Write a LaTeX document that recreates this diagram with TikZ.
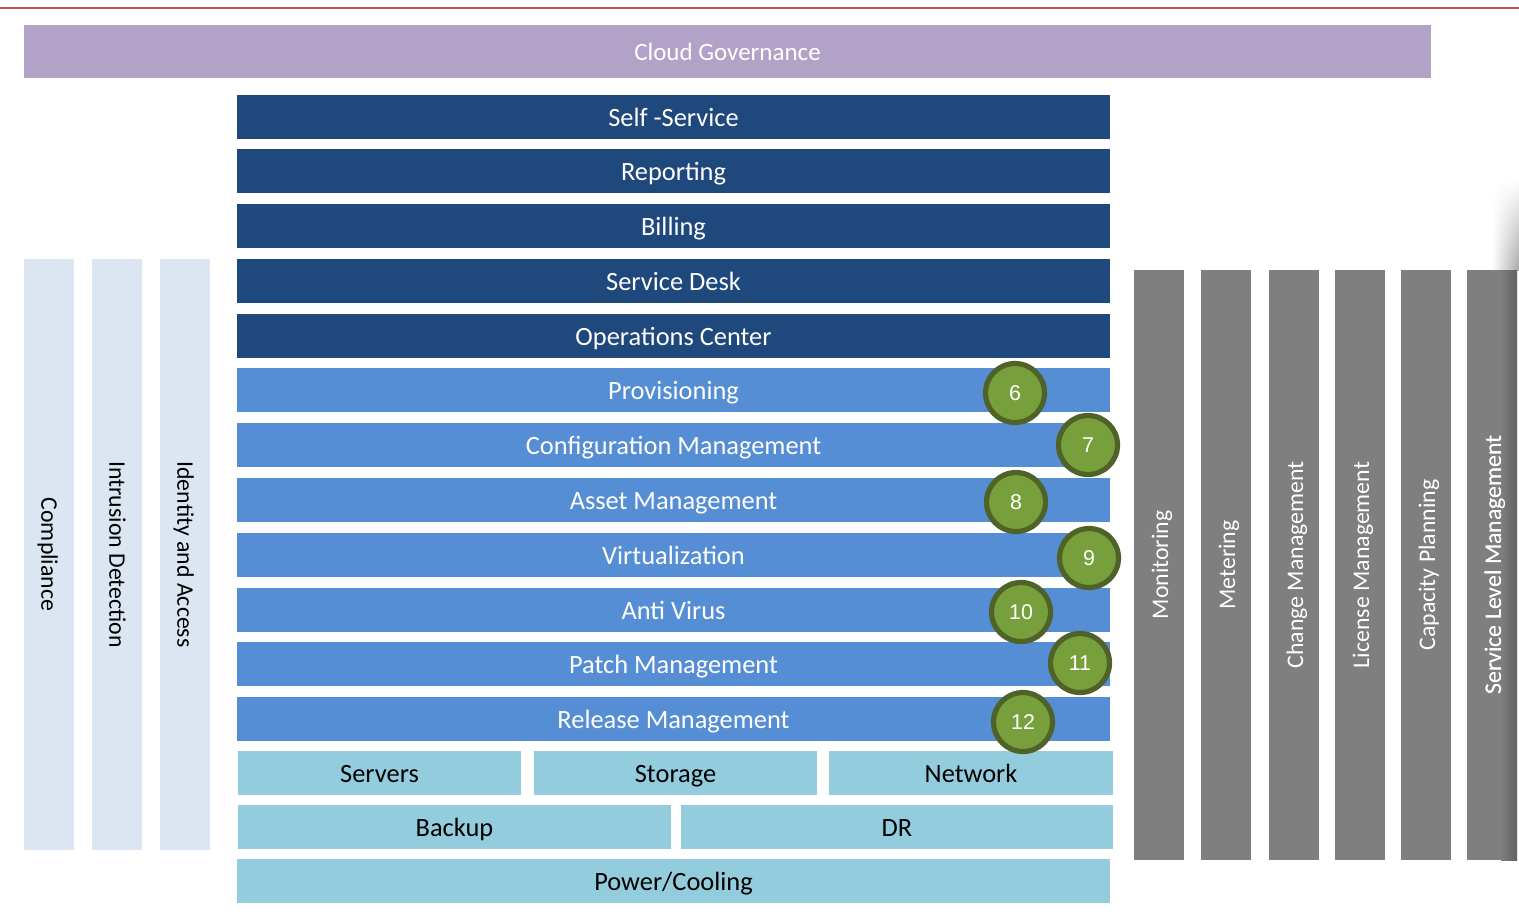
\documentclass[tikz,border=0pt]{standalone}
\usepackage{fontspec}
\setmainfont{Carlito}
\newfontfamily\numfont{Liberation Sans}
\usetikzlibrary{fadings}

\definecolor{govpurple}{HTML}{B2A2C7}
\definecolor{mgmtblue}{HTML}{1F497D}
\definecolor{opsblue}{HTML}{558ED5}
\definecolor{infracyan}{HTML}{93CDDD}
\definecolor{secpale}{HTML}{DCE6F2}
\definecolor{procgray}{HTML}{7F7F7F}
\definecolor{badgegreen}{HTML}{77A03D}
\definecolor{badgeedge}{HTML}{4F6228}
\definecolor{rulered}{HTML}{C0504D}

\tikzfading[name=fadeup, top color=transparent!100, bottom color=transparent!0]

\tikzset{
  layer/.style={rectangle, inner sep=0pt, text=white, font=\fontsize{13.2}{15}\selectfont,
    text height=0.9em, text depth=0em, minimum width=436.5pt, minimum height=22pt},
  mgmt/.style={layer, fill=mgmtblue},
  ops/.style={layer, fill=opsblue},
  infra/.style={layer, fill=infracyan, text=black},
  secbar/.style={rectangle, fill=secpale, rotate=-90, inner sep=0pt, text=black,
    font=\fontsize{11.9}{14}\selectfont, text height=0.8em, text depth=0.04em,
    minimum width=295.5pt, minimum height=25pt},
  procbar/.style={rectangle, fill=procgray, rotate=90, inner sep=0pt, text=white,
    font=\fontsize{11.9}{14}\selectfont, text height=0.9em, text depth=0em,
    minimum width=295pt, minimum height=25pt},
  badge/.style={circle, fill=badgegreen, draw=badgeedge, line width=2.6pt, minimum size=29.5pt,
    inner sep=0pt, text=white, font=\numfont\fontsize{10.7}{12}\selectfont}
}

\begin{document}
\begin{tikzpicture}[x=0.5pt, y=-0.5pt]

\useasboundingbox (0,0) rectangle (1519,916);

\coordinate (ruleL) at (0,7.5);
\coordinate (ruleR) at (1519,7.5);
\draw[rulered, line width=1pt] (ruleL) -- (ruleR);

\node[layer, fill=govpurple, minimum width=703.5pt, minimum height=26.5pt,
  font=\fontsize{12.5}{15}\selectfont] (gov) at (727.5,51.5) {Cloud Governance};

\foreach \y/\name/\txt in {117/self/Self -Service, 171/report/Reporting, 226/bill/Billing,
    281/desk/Service Desk, 336/opc/Operations Center}
  \node[mgmt] (\name) at (673.5,\y) {\txt};

\foreach \y/\name/\txt in {390/prov/Provisioning, 445/config/Configuration Management,
    500/asset/Asset Management, 555/virt/Virtualization, 610/av/Anti Virus,
    664/patch/Patch Management, 719/release/Release Management}
  \node[ops] (\name) at (673.5,\y) {\txt};

\node[infra, minimum width=141.5pt] (servers) at (379.5,773) {Servers};
\node[infra, minimum width=141.5pt] (storage) at (675.5,773) {Storage};
\node[infra, minimum width=142pt] (network) at (971,773) {Network};
\node[infra, minimum width=216.5pt] (backup) at (454.5,827) {Backup};
\node[infra, minimum width=216pt] (dr) at (897,827) {DR};
\node[infra] (power) at (673.5,881) {Power/Cooling};

\foreach \x/\name/\txt in {49/compl/Compliance, 117/ids/Intrusion Detection, 185/iam/Identity and Access}
  \node[secbar] (\name) at (\x,554.5) {\txt};

\foreach \x/\name/\txt in {1159/mon/Monitoring, 1226/meter/Metering, 1294/change/Change Management,
    1360/license/License Management, 1426/capacity/Capacity Planning}
  \node[procbar] (\name) at (\x,565) {\txt};

\shade[path fading=fadeup, left color=white, right color=black!35] (1492,180) rectangle (1519,270);
\node[procbar] (slm) at (1492,565) {Service Level Management};
\shade[left color=procgray, right color=black!62] (1501,270) rectangle (1517,860);
\node[procbar, fill=none] at (slm) {Service Level Management};

\foreach \n/\x/\y in {6/1015/393, 7/1088/445, 8/1016/502, 9/1089/558, 10/1021/612, 11/1080/663, 12/1023/722}
  \node[badge] (b\n) at (\x,\y) {\n};

\end{tikzpicture}
\end{document}
